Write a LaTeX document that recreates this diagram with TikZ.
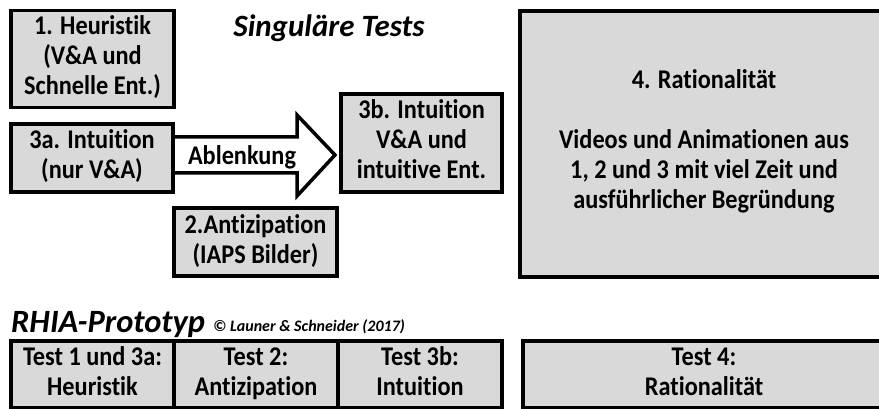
\documentclass[tikz,border=0pt]{standalone}
\usepackage{fontspec}
\setmainfont{Carlito}[Ligatures=NoCommon]
\newfontfamily\boxfont[FakeStretch=0.9,Ligatures=NoCommon]{Carlito}
\newfontfamily\tabfont[FakeStretch=0.9,Ligatures=NoCommon]{Carlito}
\usetikzlibrary{positioning}
\definecolor{boxgray}{RGB}{217,217,217}
\newcommand\twolines[2]{#1\strut\\#2\strut}
\tikzset{
  testbox/.style={draw, line width=3.5pt, fill=boxgray, align=center, inner sep=0pt, outer sep=0pt,
    font={\boxfont\bfseries\fontsize{27}{30}\selectfont}, execute at begin node={\rule{0pt}{27pt}}},
  tabcell/.style={testbox, minimum height=67pt, font={\tabfont\bfseries\fontsize{27}{30}\selectfont}},
  blockarrow/.style={line width=3.5pt, fill=white, line join=miter},
}

\begin{document}
\begin{tikzpicture}[x=1pt, y=-1pt]
			%%%%% START %%%%%
			\clip (0,0) rectangle (879,409);
			
			\node[font={\bfseries\itshape\fontsize{31}{31}\selectfont}, anchor=base] (titel) at (329,37) {Singuläre Tests};
			
			\node[testbox, minimum width=163pt, minimum height=97pt] (heur) at (92.5,59) {1. Heuristik\strut\\(V\&A und\strut\\Schnelle Ent.)\strut};
			
			\draw[blockarrow] (175,137) -- (297,137) -- (297,115) -- (335,155) -- (297,196) -- (297,173) -- (175,173);
			\node[font={\boxfont\bfseries\fontsize{27}{30}\selectfont}] (ablenk) at (242,157) {Ablenkung};
			
			\node[testbox, minimum width=162pt, minimum height=68pt] (intA) at (92,158) {\twolines{3a. Intuition}{(nur V\&A)}};
			\node[testbox, minimum width=161pt, minimum height=98pt] (intB) at (421.5,143) {3b. Intuition\strut\\V\&A und\strut\\intuitive Ent.\strut};
			\node[testbox, minimum width=163pt, minimum height=68pt] (antiz) at (255.5,242) {\twolines{2.Antizipation}{(IAPS Bilder)}};
			
			\node[testbox, minimum width=368pt, minimum height=266pt] (ratio) at (704,144)
				{4. Rationalität\\[30pt]Videos und Animationen aus\\1, 2 und 3 mit viel Zeit und\\ausführlicher Begründung\strut};
			
			\node[font={\bfseries\itshape\fontsize{32.5}{32}\selectfont}, anchor=base west, inner sep=0pt] (proto) at (11,332) {RHIA-Prototyp};
			\node[font={\bfseries\itshape\fontsize{16}{16}\selectfont}, anchor=base west, inner sep=0pt] (copy) at (213,331) {© Launer \& Schneider (2017)};
			
			\node[tabcell, minimum width=163pt] (t1) at (92.5,374.5) {\twolines{Test 1 und 3a:}{Heuristik}};
			\node[tabcell, minimum width=164pt, right=0pt of t1] (t2) {\twolines{Test 2:}{Antizipation}};
			\node[tabcell, minimum width=164pt, right=0pt of t2] (t3) {\twolines{Test 3b:}{Intuition}};
			\node[tabcell, minimum width=362pt] (t4) at (704,374.5) {\twolines{Test 4:}{Rationalität}};
			
			%%%%% END %%%%%
\end{tikzpicture}
\end{document}
